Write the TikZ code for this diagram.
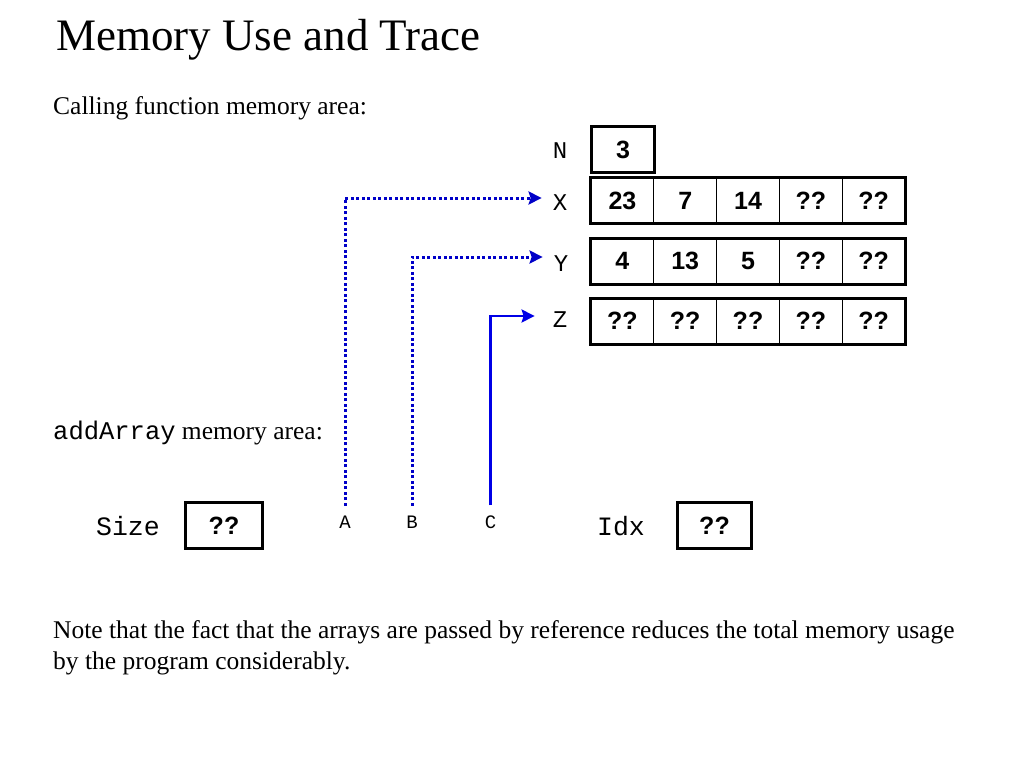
\documentclass[tikz,border=0pt]{standalone}
\usepackage{fontspec}
\setmainfont{Liberation Serif}
\setsansfont{Liberation Sans}
\setmonofont{Liberation Mono}
\usetikzlibrary{arrows.meta}
\definecolor{refblue}{RGB}{0,0,200}
\definecolor{ptrblue}{RGB}{0,0,230}
\tikzset{
    txt/.style={inner sep=0pt, anchor=base west, font=\fontsize{25.5}{31}\selectfont},
    cell/.style={draw, line width=1pt, minimum width=62.8pt, minimum height=45pt, inner sep=0pt,
        font=\sffamily\bfseries\fontsize{25}{25}\selectfont},
    frame/.style={line width=3pt},
    var/.style={inner sep=0pt, font=\ttfamily\fontsize{24}{24}\selectfont},
    parm/.style={inner sep=0pt, font=\ttfamily\fontsize{19}{19}\selectfont},
    byref/.style={refblue, line width=3pt, dash pattern=on 3pt off 2.5pt,
        -{Stealth[length=13pt, width=13pt, inset=2pt]}},
    byptr/.style={ptrblue, line width=2.5pt, -{Stealth[length=13pt, width=13pt, inset=2pt]}}
}
\begin{document}
\begin{tikzpicture}[x=1pt, y=-1pt]
    \useasboundingbox (0,0) rectangle (1024,768);
    \node[txt, font=\fontsize{45}{54}\selectfont] (title) at (56,50) {Memory Use and Trace};
    \node[txt] (caller) at (53,114) {Calling function memory area:};

        \node[var] (N) at (560,151) {N};
            \node[cell] (N1) at (623,149.5) {3};
            \draw[frame] (N1.north west) rectangle (N1.south east);

        \node[var] (X) at (560,203) {X};
            \node[cell] (X1) at (622.4,200.5) {23};
            \node[cell] (X2) at (685.2,200.5) {7};
            \node[cell] (X3) at (748.0,200.5) {14};
            \node[cell] (X4) at (810.8,200.5) {??};
            \node[cell] (X5) at (873.6,200.5) {??};
            \draw[frame] (X1.north west) rectangle (X5.south east);

        \node[var] (Y) at (561,264) {Y};
            \node[cell] (Y1) at (622.4,261) {4};
            \node[cell] (Y2) at (685.2,261) {13};
            \node[cell] (Y3) at (748.0,261) {5};
            \node[cell] (Y4) at (810.8,261) {??};
            \node[cell] (Y5) at (873.6,261) {??};
            \draw[frame] (Y1.north west) rectangle (Y5.south east);

        \node[var] (Z) at (560,320) {Z};
            \node[cell] (Z1) at (622.4,321) {??};
            \node[cell] (Z2) at (685.2,321) {??};
            \node[cell] (Z3) at (748.0,321) {??};
            \node[cell] (Z4) at (810.8,321) {??};
            \node[cell] (Z5) at (873.6,321) {??};
            \draw[frame] (Z1.north west) rectangle (Z5.south east);

    \node[txt] (callee) at (53,439) {\ttfamily\fontsize{25.5}{31}\selectfont addArray\rmfamily{} memory area:};

        \node[var, font=\ttfamily\fontsize{26.5}{26.5}\selectfont] (Size) at (128,526) {Size};
            \node[cell, minimum width=76pt] (Size1) at (224,525.5) {??};
            \draw[frame] (Size1.north west) rectangle (Size1.south east);

        \node[parm] (A) at (345,522) {A};
        \node[parm] (B) at (412,522) {B};
        \node[parm] (C) at (490.5,522) {C};
            \draw[byref, shorten <=10pt, shorten >=11pt] (A.north) |- ([yshift=5pt]X.west);
            \draw[byref, shorten <=10pt, shorten >=11pt] (B.north) |- ([yshift=7pt]Y.west);
            \draw[byptr, shorten <=10pt, shorten >=18pt] (C.north) |- ([yshift=4pt]Z.west);

        \node[var, font=\ttfamily\fontsize{26.5}{26.5}\selectfont] (Idx) at (621,526) {Idx};
            \node[cell, minimum width=73pt] (Idx1) at (714.5,525.5) {??};
            \draw[frame] (Idx1.north west) rectangle (Idx1.south east);

    \node[txt, align=left, anchor=base west] (note) at (53,669) {Note that the fact that the arrays are passed by reference reduces the total memory usage\\by the program considerably.};
\end{tikzpicture}
\end{document}
